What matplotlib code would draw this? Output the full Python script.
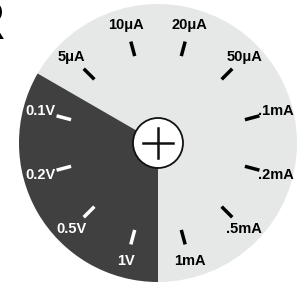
import numpy as np
import matplotlib
matplotlib.use("Agg")
import matplotlib.pyplot as plt
from matplotlib.patches import Circle, Wedge
from matplotlib import font_manager

# Dial labels, counter-clockwise starting just right of the top-right
labels = [".1mA", "50μA", "20μA", "10μA", "5μA", "0.1V",
          "0.2V", "0.5V", "1V", "1mA", ".5mA", ".2mA"]
voltage_labels = ["0.1V", "0.2V", "0.5V", "1V"]

W, H = 304, 288
fig = plt.figure(figsize=(W / 100, H / 100), dpi=100)
ax = fig.add_axes([0, 0, 1, 1])
ax.set_xlim(0, W)
ax.set_ylim(0, H)
ax.axis("off")

names = {f.name for f in font_manager.fontManager.ttflist}
fam = [f for f in ["Liberation Sans Narrow", "Liberation Sans", "DejaVu Sans"] if f in names]

cx, cy, R = 158, 145, 139
light = "#e6e7e7"
dark = "#404040"

ax.add_patch(Circle((cx, cy), R, facecolor=light, edgecolor="none"))
ax.add_patch(Wedge((cx, cy), R, 150, 270, facecolor=dark, edgecolor="none"))

n = len(labels)
for i, lab in enumerate(labels):
    ang = np.deg2rad(15 + 360 / n * i)
    on_dark = lab in voltage_labels
    col = "white" if on_dark else "black"
    r0, r1, rl = 90, 105, 122
    ax.plot([cx + r0 * np.cos(ang), cx + r1 * np.cos(ang)],
            [cy + r0 * np.sin(ang), cy + r1 * np.sin(ang)],
            color=col, lw=2.5, solid_capstyle="butt")
    ax.text(cx + rl * np.cos(ang), cy + rl * np.sin(ang), lab,
            ha="center", va="center", color=col, fontsize=10.5,
            fontweight="bold", family=fam)

ax.add_patch(Circle((cx, cy), 25, facecolor="white", edgecolor="#111111", lw=1.3))
ax.plot([cx - 15, cx + 15], [cy, cy], color="#111111", lw=1.8)
ax.plot([cx, cx], [cy - 15, cy + 15], color="#111111", lw=1.8)

ax.text(4, 263, "R", ha="right", va="center", fontsize=40,
        fontweight="bold", family=fam, color="black")

fig.savefig("out.png", dpi=100)
